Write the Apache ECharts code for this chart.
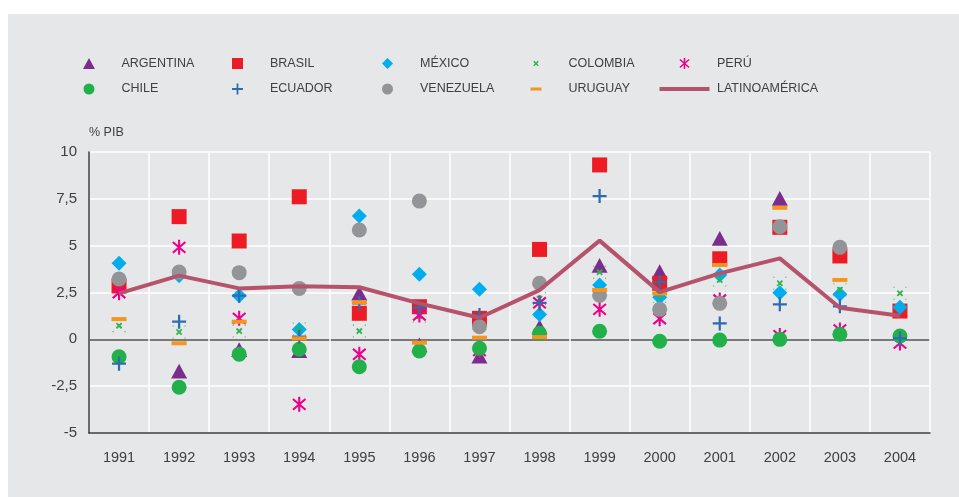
<!DOCTYPE html>
<html lang="es">
<head>
    <meta charset="UTF-8">
    <title>% PIB</title>
    <script src="https://cdn.jsdelivr.net/npm/echarts@6/dist/echarts.min.js"></script>
    <style>
        html, body { margin: 0; padding: 0; background: #fff; }
        #main { width: 959px; height: 497px; }
    </style>
</head>
<body>
<div id="main"></div>
<script>
    // datos (% PIB)
    var years = ['1991', '1992', '1993', '1994', '1995', '1996', '1997', '1998', '1999', '2000', '2001', '2002', '2003', '2004'];
    var yTicks = [-5, -2.5, 0, 2.5, 5, 7.5, 10];

    var argentina = [null, -1.7, -0.55, -0.6, 2.46, -0.3, -0.9, 0.67, 3.95, 3.61, 5.39, 7.52, null, null];
    var brasil = [2.85, 6.55, 5.25, 7.61, 1.39, 1.74, 1.12, 4.8, 9.31, 2.99, 4.3, 5.98, 4.45, 1.51];
    var mexico = [4.06, 3.4, 2.33, 0.53, 6.58, 3.47, 2.67, 1.33, 2.9, 2.25, 3.43, 2.49, 2.4, 1.71];
    var colombia = [0.73, 0.39, 0.44, 0.55, 0.44, 1.24, -0.3, 2.17, 3.58, 2.3, 3.17, 2.99, 2.65, 2.46];
    var peru = [2.49, 4.91, 1.12, -3.47, -0.8, 1.3, -0.6, 1.95, 1.6, 1.1, 2.1, 0.2, 0.5, -0.2];
    var chile = [-0.93, -2.56, -0.79, -0.53, -1.46, -0.62, -0.48, 0.32, 0.43, -0.1, -0.04, 0.0, 0.27, 0.18];
    var ecuador = [-1.3, 0.94, 2.33, 0.14, 1.92, 1.7, 1.3, 1.95, 7.65, 3.05, 0.85, 1.87, 1.76, 0.05];
    var venezuela = [3.22, 3.59, 3.56, 2.72, 5.84, 7.38, 0.67, 2.99, 2.35, 1.6, 1.92, 6.01, 4.91, null];
    var uruguay = [1.08, -0.21, 0.94, 0.05, 1.98, -0.18, 0.09, 0.12, 2.63, 2.45, 3.97, 7.02, 3.17, null];
    var latinoamerica = [2.45, 3.4, 2.72, 2.84, 2.78, 1.92, 1.15, 2.63, 5.27, 2.52, 3.52, 4.32, 1.69, 1.26];

    // simbolos
    var TRI = 'path://M50,0L100,92L0,92Z';
    var SQR = 'path://M0,0H100V100H0Z';
    var DIA = 'path://M50,0L100,50L50,100L0,50Z';
    var PLUS = 'path://M42,0H58V42H100V58H58V100H42V58H0V42H42Z';
    var STAR = 'path://M43,0L43,100L57,100L57,0Z' +
        'M3.44,19.31L87.44,91.31L96.56,80.69L12.56,8.69Z' +
        'M87.44,8.69L3.44,80.69L12.56,91.31L96.56,19.31Z';
    var XARMS = 'M25.05,34.95L65.05,74.95L74.95,65.05L34.95,25.05Z' +
        'M65.05,25.05L25.05,65.05L34.95,74.95L74.95,34.95Z';
    var XDOTS = 'path://' + XARMS + 'M0,0H8V8H0ZM92,0H100V8H92ZM0,92H8V100H0ZM92,92H100V100H92Z';
    var XLEG = 'path://' + XARMS + 'M0,0L0.01,0ZM100,100L99.99,100Z';
    var DASH = 'path://M0,0L0.01,0ZM0,36H100V64H0ZM100,100L99.99,100Z';
    var LINE = 'path://M0,0L0.01,0ZM2.5,0H52.5V4H2.5ZM55,4L54.99,4Z';

    var colors = {
        'ARGENTINA': '#7b2d8e',
        'BRASIL': '#ed1c24',
        'MÉXICO': '#00aeef',
        'COLOMBIA': '#2bb54b',
        'PERÚ': '#ec008c',
        'CHILE': '#22b04b',
        'ECUADOR': '#2f6bb0',
        'VENEZUELA': '#929497',
        'URUGUAY': '#f7941d',
        'LATINOAMÉRICA': '#b5536c'
    };

    var font = "'Liberation Sans', Arial, sans-serif";
    var textColor = '#404040';

    function dots(name, data, symbol, size) {
        return {
            name: name,
            type: 'scatter',
            data: data,
            symbol: symbol,
            symbolSize: size,
            symbolKeepAspect: true,
            itemStyle: { color: colors[name], opacity: 1 },
            emphasis: { disabled: true }
        };
    }

    // left = borde izquierdo del icono (la caja del legend empieza ahi)
    function legendCol(left, items) {
        return {
            orient: 'vertical',
            left: left,
            top: 57,
            padding: 0,
            itemWidth: 55,
            itemHeight: 11,
            itemGap: 12.5,
            symbolKeepAspect: true,
            selectedMode: false,
            textStyle: { fontSize: 12.5, color: textColor, fontFamily: font },
            data: items.map(function (it) {
                return { name: it[0], icon: it[1], itemStyle: { color: colors[it[0]], borderWidth: 0 } };
            })
        };
    }

    var myChart = echarts.init(document.getElementById('main'));
    var option = {
        animation: false,
        backgroundColor: '#fff',
        graphic: [{
            type: 'rect', left: 8, top: 14, z: -10, silent: true,
            shape: { width: 951, height: 483 },
            style: { fill: '#e6e7e8' }
        }],
        legend: [
            legendCol(83, [['ARGENTINA', TRI], ['CHILE', 'circle']]),
            legendCol(232, [['BRASIL', SQR], ['ECUADOR', PLUS]]),
            legendCol(382, [['MÉXICO', DIA], ['VENEZUELA', 'circle']]),
            legendCol(530.5, [['COLOMBIA', XLEG], ['URUGUAY', DASH]]),
            legendCol(657, [['PERÚ', STAR], ['LATINOAMÉRICA', LINE]])
        ],
        grid: { left: 89, right: 29, top: 152, bottom: 64 },
        xAxis: {
            type: 'category',
            data: years,
            boundaryGap: true,
            axisLine: { onZero: false, lineStyle: { color: '#3a3a3a', width: 1.5 } },
            axisTick: { show: false },
            axisLabel: { fontSize: 14.5, color: textColor, fontFamily: font, margin: 17 },
            splitLine: { show: true, interval: 0, lineStyle: { color: '#fff', width: 1.5 } }
        },
        yAxis: {
            type: 'value',
            min: yTicks[0],
            max: yTicks[yTicks.length - 1],
            interval: 2.5,
            name: '% PIB',
            nameLocation: 'end',
            nameGap: 13,
            nameTextStyle: { fontSize: 12.5, color: textColor, fontFamily: font, align: 'left' },
            axisLine: { show: true, lineStyle: { color: '#3a3a3a', width: 1.5 } },
            axisTick: { show: false },
            axisLabel: {
                fontSize: 15, color: textColor, fontFamily: font, margin: 12,
                formatter: function (v) { return String(v).replace('.', ','); }
            },
            splitLine: {
                lineStyle: {
                    // la linea del cero va en gris oscuro
                    color: yTicks.map(function (t) { return t === 0 ? '#555' : '#fff'; }),
                    width: 1.5
                }
            }
        },
        series: [
            {
                name: 'LATINOAMÉRICA',
                type: 'line',
                data: latinoamerica,
                symbol: 'none',
                lineStyle: { color: colors['LATINOAMÉRICA'], width: 4 },
                itemStyle: { color: colors['LATINOAMÉRICA'] },
                emphasis: { disabled: true }
            },
            dots('ARGENTINA', argentina, TRI, 16),
            dots('BRASIL', brasil, SQR, 15),
            dots('MÉXICO', mexico, DIA, 15),
            dots('COLOMBIA', colombia, XDOTS, 13),
            dots('PERÚ', peru, STAR, 15),
            dots('CHILE', chile, 'circle', 15),
            dots('ECUADOR', ecuador, PLUS, 14),
            dots('VENEZUELA', venezuela, 'circle', 15),
            dots('URUGUAY', uruguay, 'rect', [15, 4])
        ]
    };
    myChart.setOption(option);
</script>
</body>
</html>
